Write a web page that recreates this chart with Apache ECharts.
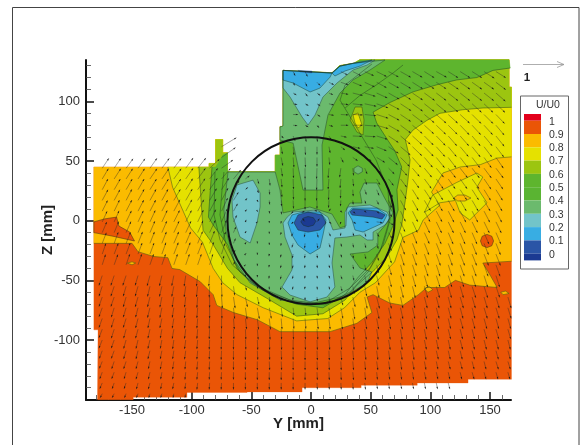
<!DOCTYPE html>
<html><head><meta charset="utf-8">
<style>html,body{margin:0;padding:0;background:#fff}#c{width:581px;height:445px}</style>
<script src="https://cdn.jsdelivr.net/npm/echarts@6/dist/echarts.min.js"></script>
</head><body><div id="c"></div>
<script>
const legendLabels=['1','0.9','0.8','0.7','0.6','0.5','0.4','0.3','0.2','0.1','0'];
const legendColors=['#e3001b','#ea5506','#fbbb00','#e5e100','#9cc510','#5eb52e','#5ab432','#6bba6d','#72c4c9','#38ade3','#2a55a6','#1b3a92'];
const majorX=[-150,-100,-50,0,50,100,150];
const minorX=[-180,-170,-160,-140,-130,-120,-110,-90,-80,-70,-60,-40,-30,-20,-10,10,20,30,40,60,70,80,90,110,120,130,140,160];
const majorZ=[-100,-50,0,50,100];
const minorZ=[-140,-130,-120,-110,-90,-80,-70,-60,-40,-30,-20,-10,10,20,30,40,60,70,80,90,110,120,130];

// measured domain outline (Y,Z in mm)
const upperEdge=[[168,112],[166,112],[166,135],[41,135],[36,132],[24,130],[17.6,124],[-23.5,126],[-23.5,79],[-26,79],[-26,55],[-30,55],[-30,41],[-70,41],[-70,57],[-74,57],[-74,68],[-80,68],[-80,48],[-85.5,48],[-85.5,45]];
const lowerEdge=[[-182,45],[-182,-91.5],[-178.5,-91.5],[-179,-150],[-149,-150],[-149,-148],[-104,-148],[-104,-144],[-53.6,-144],[-53.6,-143.5],[-7.5,-143.5],[-7.5,-140],[42,-140],[42,-138],[89,-138],[89,-136],[131.6,-136],[131.6,-133],[168,-133]];
// contours (Y,Z in mm)
const c08=[[-182,-19],[-166,-19],[-150,-19],[-145,-26],[-132,-30],[-120,-31],[-116.5,-40],[-110,-41],[-93,-51],[-82,-62],[-79,-71],[-65,-77],[-45,-83],[-26,-93],[16,-93],[38.5,-86],[51,-77],[47,-64],[52,-62],[66,-69],[77,-71],[90,-62],[97,-56],[112,-56],[121,-50],[133,-54],[156,-56],[150,-45.5],[144,-35.5],[168,-34]];
const c09wedge=[[-182,-1],[-173,1.5],[-163,3],[-161,-4.5],[-152,-9.5],[-148,-17],[-166,-13],[-182,-10]];
const c09spot=[[147.5,-11.5],[151.5,-13],[153,-17],[151.5,-21],[147.5,-22.5],[143.5,-21],[142,-17],[143.5,-13]];
const c08dashA=[[-154,-35.5],[-150,-34.5],[-147,-35.5],[-150,-37]];
const c08dashB=[[159,-60],[163,-59],[166,-61],[161,-62]];
const c08dashC=[[95,-57],[99,-55],[102,-58],[98,-60]];
const c07=[[-120,45],[-116,28],[-101,-6],[-91,-18],[-82,-40],[-74,-52],[-62,-62],[-40,-73],[-12,-84],[14,-82],[28,-73],[41,-60],[54,-52],[70,-34.5],[77,-14],[90,-8],[94,0.6],[108,13],[101,24],[110.6,40],[125,45],[142,47],[156,52.5],[168,53.5]];
const c07island=[[102,21.5],[122,32],[139,40],[144,36.6],[139,28],[147.5,15],[133,0.6],[125,6.5],[121,17],[108,15],[95,7]];
const c08inner=[[119.5,19],[123,21.5],[129,21.5],[134,19],[129,16.5],[123,16.5]];
const c06=[[-94,45],[-90.5,-8],[-82,-20],[-70,-40],[-59.5,-52],[-37,-65],[-12,-80],[10,-78],[28.5,-66.5],[38.5,-54],[53.6,-41],[64.5,-29],[72,-16],[76,-3.6],[79,17],[81,32],[83,51],[79,68],[85.5,76],[97,84],[108,90],[127,93],[144,94.5],[167,95],[168,95]];
const c05=[[-83,45],[-86,3],[-82,-3.6],[-70,-20],[-62,-40],[-51,-51],[-26,-65],[-12,-70],[10,-73],[28.5,-62],[39,-48],[51,-35],[62,-19],[69,-3.6],[73,9],[72,26],[76,45],[70,59],[64,68],[55,82],[52,91],[66,99],[85.5,108],[105.6,114],[122,118],[139,120],[152.5,126],[167,128]];
const c05tail=[[-74,55],[-80,45]];
const c045a=[[-73,40.8],[-74.6,25.7],[-76.3,4.8],[-71.2,-20.4],[-59.5,-43],[-41,-58],[-13.4,-68],[11.7,-69],[32.7,-56.4],[49.4,-39.6],[60.3,-20.4],[66.2,0.6],[64.5,25.7],[54.5,50.9],[36.9,80.2],[24.3,101],[28.5,113.7],[51,131.3]];
const c045b=[[-80.5,40.8],[-81.3,4.8],[-76.3,-16],[-66,-37],[-47,-54],[-17.6,-66.5],[11.7,-70.6],[32.7,-59.8],[47.8,-43],[57.8,-26],[64.5,-3.6],[68,21.5]];
const c045c=[[28.5,94.4],[41,105],[55,114],[69,124],[77.1,130.5]];
const c04a=[[-69.6,40.8],[-30,40.8],[-26,25.7],[-23.5,6.5],[-1,11.5],[17.6,5.6],[24.3,-6],[29.3,-4.4],[30,10.6],[32.7,14.8],[42.7,14.8],[41,24],[44.4,31.6],[55.3,31.6],[61.2,19.9],[68.7,6.5],[63.7,-1.9],[56,-11],[56,-20.4],[47.8,-26.2],[32.7,-27.9],[41,-39.6],[51,-43],[47,-52.2],[28.5,-63],[-1,-69.8],[-26,-66.5],[-51,-52.2],[-64.5,-33],[-71,-9.5],[-73,9]];
const c04b=[[-23.5,126],[17.6,123.8],[24.3,129.6],[36,132],[62,134.7],[49.4,126.3],[35.2,118],[24.3,107],[14.2,88.6],[9.2,63.4],[10,25.7],[-6.7,25.7],[-15,65],[-26,67.6],[-26,78.5],[-23.5,79.4]];
const c04c=[[39.4,46],[43,44],[43,41],[39.4,39],[36,41],[36,44]];
const c03a=[[-62,30],[-48.6,34],[-42.7,23.2],[-42.7,11.5],[-45.3,-1.9],[-51,-18.7],[-59.5,-13.7],[-65.4,3],[-66.2,17.3]];
const c03b=[[-20,3],[-15,7.3],[5,9],[14.2,3],[18.4,-7.8],[28.5,-6.1],[28.5,7.3],[31,11.5],[49.4,13.2],[63.7,7.3],[66.2,2.3],[62,-3.6],[52,-9.5],[52,-16.2],[47,-16.2],[41,-12],[30,-13.7],[20,-14.5],[17.6,-35.4],[20,-55.6],[13.4,-64],[-0.8,-68],[-17.6,-62.3],[-24.3,-55.6],[-16,-41.3],[-16,-28.7],[-21.8,-13.7],[-23.5,-1.9]];
const c03c=[[-23.5,126],[17.6,123.8],[24.3,129.6],[36,132],[53.6,134.7],[47,130.5],[35.2,126.3],[21.8,115.4],[10,103.7],[3.4,88.6],[-2.5,80.2],[-7.5,86.9],[-17.6,103.7],[-23.5,111.2]];
const c02a=[[-19.3,-1.9],[-16,4.8],[-6.7,7.3],[7.5,7.3],[12.6,0.6],[10,-12],[7.5,-22.9],[-0.8,-27.9],[-10.9,-20.4],[-16,-12]];
const c02b=[[31,6.5],[34.4,10.6],[55.3,10.6],[63.7,4.8],[60.3,-1.9],[43.6,-9.5],[36.9,-7.8],[34.4,0.6]];
const c02c=[[-23.5,126],[0.8,124.6],[17.6,123.8],[16,120.4],[7.5,111.2],[-0.8,107.9],[-15,115.4],[-23.5,117.9]];
const c02d=[[17.6,123.8],[24.3,129.6],[35.2,132],[51,134.7],[41,129.6],[28.5,125.5],[20,121.3]];
const c01a=[[-14.2,-1.9],[-10.9,4.8],[-2.5,7.3],[9.2,4.8],[12.6,-1.9],[7.5,-7.8],[-2.5,-9.5],[-10.9,-7.8]];
const c01b=[[32.7,7.3],[35.2,9.8],[47,9],[55.3,8.1],[62,4.8],[59.5,1.4],[52,3.1],[43.6,3.9],[34.4,4.8]];
const c01c=[[-11,126],[0.8,125.4],[0.8,123.8],[-9,124.6]];
const c00=[[-8.5,-1],[-6.5,2.2],[-2.5,3.5],[2,2.5],[4,-0.5],[2,-3.8],[-2.5,-5],[-6.5,-3.8]];
const c06isle=[[36.9,95.3],[42.7,95.3],[44.4,84.4],[43.6,71.8],[38.5,74.3],[32.7,84.4]];
const c07isle=[[35.2,88.6],[39.4,90.3],[42.7,80.2],[39.4,77.7],[36.9,81.9]];
const ring=[[0,0,70]];

// velocity samples, hundredths of U0; columns Y=-175..165 step 10 unless start differs
const vecZ=[125,116,107,98,89,80,71,62,53,44,35,26,17,8,-1,-10,-19,-28,-37,-46,-55,-64,-73,-82,-91,-100,-109,-118,-127,-136,-145];
const vecStart=[15,15,15,15,15,15,15,10,10,0,0,0,0,0,0,0,0,0,0,0,0,0,0,0,0,0,0,0,0,0,0];
const vecU=[
[4,5,6,8,10,16,20,22,24,24,25,24,24,25,24,24,24,25,24,24],
[6,4,5,8,12,18,22,24,24,25,25,25,24,24,25,24,24,24,24,24],
[10,8,6,8,10,18,24,26,26,26,25,25,25,24,24,24,24,24,23,23],
[10,10,8,8,12,18,24,28,28,26,26,25,24,24,24,23,23,22,22,22],
[12,12,10,8,12,18,24,28,28,26,25,25,24,24,23,23,22,22,21,21],
[10,10,8,5,10,18,24,28,28,26,25,24,23,23,22,22,21,21,20,20],
[6,5,3,1,6,14,22,26,26,24,24,23,22,22,21,21,20,20,20,19],
[36,0,0,0,0,3,2,1,0,3,10,18,22,24,24,24,23,22,21,20,20,20,19,19,18],
[34,0,0,0,0,4,2,1,0,2,6,12,16,20,22,22,21,20,20,19,19,19,18,18,18],
[16,16,17,17,17,18,18,18,20,24,28,26,24,18,8,3,1,0,-1,-2,-3,2,6,10,14,16,17,18,18,18,18,18,18,18,18],
[15,16,16,16,17,17,18,18,19,20,22,18,10,4,2,2,1,0,-1,-2,-2,2,5,8,12,15,16,17,17,17,17,17,17,17,17],
[14,15,15,15,16,16,17,17,18,19,18,14,6,3,1,2,1,0,-1,-1,-1,1,4,6,10,14,15,16,16,16,16,16,16,16,16],
[14,14,14,15,15,15,16,16,17,17,16,12,4,2,1,1,1,0,0,-1,-1,1,3,5,8,13,14,15,15,15,15,15,15,15,15],
[13,13,14,14,14,14,15,15,15,16,15,10,3,1,1,1,-4,-8,-6,4,3,6,4,6,8,12,13,14,14,14,14,14,14,14,14],
[12,12,13,13,13,13,14,14,14,15,14,8,2,1,0,-1,-4,-6,6,6,-2,8,10,14,12,11,12,13,13,13,13,13,13,13,13],
[11,11,12,12,12,12,13,13,13,14,12,6,2,0,0,-2,-4,-2,3,4,-1,3,3,6,8,10,11,12,12,12,12,12,12,12,12],
[10,10,11,11,11,11,12,12,12,12,10,5,2,0,0,-1,-3,-1,2,3,2,2,3,4,7,10,11,11,11,11,11,11,11,11,11],
[9,10,10,10,10,10,11,11,11,10,8,4,2,0,-1,-2,-2,-1,1,2,2,2,3,5,7,9,10,10,10,10,11,11,11,11,11],
[8,9,9,9,9,9,9,9,9,8,6,3,1,0,-1,-2,-2,-1,1,2,2,2,3,5,7,8,9,9,9,9,10,10,10,10,10],
[-8,-8,-8,-7,-7,-6,-5,-4,-3,-2,0,2,1,0,-1,-2,-2,-1,1,2,3,3,4,6,7,8,8,8,9,9,9,9,9,9,9],
[-8,-8,-7,-7,-6,-6,-5,-4,-3,-1,1,3,3,1,0,-2,-2,-1,1,2,3,4,5,6,7,7,7,8,8,8,8,9,9,9,9],
[-8,-8,-7,-7,-6,-5,-4,-3,-2,0,2,4,5,4,2,-1,-1,0,1,3,5,6,6,7,7,6,6,7,7,7,8,8,8,8,8],
[-8,-7,-7,-6,-6,-5,-4,-3,-2,0,1,3,4,5,5,3,2,2,3,4,5,5,5,6,6,6,6,6,7,7,7,7,8,8,8],
[-8,-7,-7,-6,-5,-5,-4,-3,-2,-1,0,2,3,3,3,2,2,2,3,3,4,4,5,5,5,5,5,6,6,6,7,7,7,7,7],
[-8,-7,-6,-6,-5,-4,-4,-3,-2,-1,-1,1,1,2,2,1,1,1,2,2,3,3,4,4,4,4,5,5,5,6,6,6,7,7,7],
[-8,-7,-6,-5,-5,-4,-3,-3,-2,-1,-1,0,1,1,1,1,0,1,1,2,2,3,3,3,4,4,4,5,5,5,6,6,6,6,6],
[-7,-7,-6,-5,-5,-4,-3,-3,-2,-1,-1,0,0,1,1,1,0,0,1,1,2,2,3,3,3,4,4,4,5,5,5,6,6,6,6],
[-7,-6,-6,-5,-4,-4,-3,-2,-2,-1,-1,0,0,0,1,1,0,0,1,1,1,2,2,3,3,3,4,4,4,5,5,5,5,6,6],
[-6,-6,-5,-5,-4,-3,-3,-2,-2,-1,-1,0,0,0,0,0,0,0,1,1,1,2,2,2,3,3,3,4,4,4,4,5,5,5,5],
[-6,-5,-5,-4,-4,-3,-3,-2,-2,-1,-1,0,0,0,0,0,0,0,1,1,1,1,2,2,2,3,3,3,3,4],
[-5,-5,-4,-4,-3,-3,-2,-2]
];
const vecV=[
[-9,-10,-12,-10,-8,-8,-10,-10,-12,-13,-14,-14,-15,-14,-15,-15,-15,-16,-15,-16],
[-6,-8,-10,-8,-6,-6,-9,-11,-13,-14,-15,-16,-16,-16,-17,-17,-17,-17,-18,-18],
[-3,-5,-8,-6,-4,-3,-6,-8,-12,-15,-16,-17,-18,-18,-19,-19,-19,-19,-20,-20],
[0,-2,-4,-5,-3,-2,-3,-6,-10,-14,-17,-18,-19,-20,-20,-20,-21,-21,-21,-21],
[1,0,-3,-5,-2,-1,-1,-3,-9,-14,-17,-19,-20,-21,-21,-21,-22,-22,-22,-23],
[0,-1,-4,-6,-3,0,0,-2,-8,-15,-19,-20,-21,-22,-22,-23,-23,-23,-24,-24],
[-5,-12,-14,-14,-10,-3,-1,-2,-8,-16,-20,-21,-22,-23,-24,-24,-24,-24,-25,-25],
[22,0,0,0,0,-18,-20,-20,-19,-15,-8,-4,-4,-10,-16,-20,-22,-23,-24,-24,-24,-25,-25,-25,-25],
[24,0,0,0,0,-20,-24,-24,-22,-18,-12,-8,-8,-12,-18,-22,-24,-24,-25,-25,-25,-25,-25,-26,-26],
[24,24,23,23,24,24,24,25,25,22,20,20,10,-6,-14,-20,-24,-26,-26,-24,-22,-18,-14,-12,-14,-18,-20,-22,-22,-23,-23,-24,-24,-24,-24],
[25,25,25,25,25,25,25,26,26,26,26,22,8,-12,-16,-20,-25,-27,-27,-25,-22,-18,-14,-14,-16,-20,-22,-23,-24,-24,-24,-24,-25,-25,-25],
[26,26,26,26,26,26,26,27,27,28,28,22,6,-8,-12,-18,-24,-27,-27,-25,-21,-16,-12,-14,-18,-22,-24,-24,-25,-25,-25,-25,-26,-26,-26],
[26,26,27,27,27,27,27,28,28,29,30,20,5,-4,-10,-14,-20,-22,-20,-18,-14,-10,-8,-10,-18,-24,-25,-25,-26,-26,-26,-26,-26,-26,-26],
[26,27,27,27,27,27,28,28,28,30,32,18,4,-2,-6,-8,-6,-3,2,6,-3,-6,-3,-6,-14,-25,-26,-26,-26,-27,-27,-27,-27,-27,-27],
[26,27,27,27,28,28,28,28,29,30,32,16,5,1,-3,-4,-5,8,8,-4,-6,-4,-2,-2,-8,-24,-26,-27,-27,-27,-27,-27,-27,-27,-27],
[26,27,27,28,28,28,28,28,29,30,30,14,4,0,-3,-5,-9,-11,-12,-9,-8,-8,-10,-10,-14,-26,-27,-27,-28,-28,-28,-28,-28,-28,-28],
[26,27,27,28,28,28,28,28,29,30,28,12,3,-1,-4,-6,-10,-12,-12,-10,-8,-10,-11,-13,-18,-27,-28,-28,-28,-28,-28,-28,-28,-28,-28],
[26,26,27,27,27,28,28,28,28,29,26,10,2,-2,-5,-8,-10,-10,-10,-9,-8,-10,-12,-16,-22,-28,-28,-28,-28,-28,-28,-28,-28,-28,-28],
[25,25,26,26,26,26,26,26,26,26,22,8,1,-3,-6,-8,-9,-8,-8,-8,-8,-11,-14,-20,-25,-28,-28,-28,-28,-28,-28,-28,-28,-28,-28],
[-24,-24,-24,-24,-25,-25,-25,-26,-26,-26,-24,-8,-3,-4,-7,-9,-8,-7,-7,-7,-9,-12,-18,-24,-28,-28,-28,-28,-28,-28,-28,-28,-28,-28,-28],
[-24,-24,-24,-24,-25,-25,-25,-26,-26,-27,-26,-22,-10,-6,-8,-9,-8,-7,-8,-8,-12,-18,-24,-28,-28,-28,-28,-28,-28,-28,-28,-28,-28,-27,-27],
[-23,-23,-24,-24,-24,-25,-25,-25,-26,-26,-27,-27,-24,-18,-12,-9,-8,-8,-10,-14,-20,-24,-28,-28,-28,-27,-27,-27,-27,-27,-27,-27,-27,-27,-27],
[-22,-23,-23,-23,-24,-24,-24,-25,-25,-26,-26,-27,-28,-27,-26,-22,-18,-18,-20,-24,-26,-28,-28,-27,-27,-27,-27,-27,-26,-26,-26,-26,-26,-26,-26],
[-22,-22,-22,-23,-23,-23,-24,-24,-24,-25,-25,-26,-26,-27,-27,-26,-25,-25,-26,-26,-26,-26,-26,-26,-26,-26,-26,-26,-26,-25,-25,-25,-25,-25,-25],
[-21,-22,-22,-22,-22,-22,-23,-23,-23,-24,-24,-24,-25,-25,-25,-25,-25,-25,-25,-25,-25,-25,-25,-25,-25,-25,-25,-25,-25,-24,-24,-24,-24,-24,-24],
[-20,-20,-21,-21,-21,-21,-22,-22,-22,-23,-23,-23,-23,-24,-24,-24,-24,-24,-24,-24,-24,-24,-24,-24,-24,-24,-24,-23,-23,-23,-23,-23,-23,-23,-23],
[-19,-19,-20,-20,-20,-20,-20,-21,-21,-21,-22,-22,-22,-22,-22,-22,-22,-23,-23,-23,-23,-23,-22,-22,-22,-22,-22,-22,-21,-21,-21,-21,-21,-21,-21],
[-17,-18,-18,-18,-18,-19,-19,-19,-20,-20,-20,-20,-20,-21,-21,-21,-21,-21,-21,-21,-21,-21,-21,-21,-20,-20,-20,-20,-19,-19,-19,-19,-19,-19,-19],
[-16,-16,-16,-17,-17,-17,-17,-18,-18,-18,-18,-18,-19,-19,-19,-19,-19,-19,-19,-19,-19,-19,-19,-18,-18,-18,-18,-18,-17,-17,-17,-17,-17,-17,-17],
[-14,-14,-14,-15,-15,-15,-15,-15,-16,-16,-16,-16,-16,-16,-16,-16,-16,-16,-16,-16,-16,-16,-16,-15,-15,-15,-15,-15,-15,-15],
[-10,-10,-10,-10,-10,-10,-10,-10]
];
const vectorUnitMm=34.4;

const outline=upperEdge.concat(lowerEdge);
function inside(p,poly){let c=false;for(let i=0,j=poly.length-1;i<poly.length;j=i++){const a=poly[i],b=poly[j];
  if((a[1]>p[1])!==(b[1]>p[1])&&p[0]<(b[0]-a[0])*(p[1]-a[1])/(b[1]-a[1])+a[0])c=!c;}return c;}
const vecData=[];
vecZ.forEach((z,r)=>vecU[r].forEach((u,k)=>{const y=-175+10*(vecStart[r]+k);const v=vecV[r][k];
  if((u||v)&&inside([y,z],outline)&&y+u*vectorUnitMm/100<=168)vecData.push([y,z,u/100,v/100]);}));

const fills=[
 ['0.9-1',legendColors[1],[outline]],
 ['0.8-0.9',legendColors[2],[c08.concat(upperEdge,[[-182,45]])]],
 ['0.9-1 islands',legendColors[1],[c09wedge,c09spot]],
 ['0.8-0.9 islands',legendColors[2],[c08dashA,c08dashB,c08dashC]],
 ['0.7-0.8',legendColors[3],[c07.concat(upperEdge),c07island]],
 ['0.8-0.9 inner',legendColors[2],[c08inner]],
 ['0.6-0.7',legendColors[4],[c06.concat(upperEdge)]],
 ['0.5-0.6',legendColors[5],[c05.concat(upperEdge.slice(2,15),c05tail)]],
 ['0.6-0.7 isle',legendColors[4],[c06isle]],
 ['0.7-0.8 isle',legendColors[3],[c07isle]],
 ['0.3-0.4',legendColors[7],[c04a,c04b,c04c]],
 ['0.2-0.3',legendColors[8],[c03a,c03b,c03c]],
 ['0.1-0.2',legendColors[9],[c02a,c02b,c02c,c02d]],
 ['0-0.1',legendColors[10],[c01a,c01b,c01c]],
 ['<0',legendColors[11],[c00]]
];
const openLines=[c08,c07,c06,c05,c045a,c045b,c045c];
const closedLines=[c09wedge,c09spot,c07island,c08inner,c06isle,c07isle,c04a,c04b,c04c,c03a,c03b,c03c,c02a,c02b,c02c,c02d,c01a,c01b,c00,c08dashA,c08dashB,c08dashC];

const series=fills.map(([name,color,polys])=>({type:'custom',name,silent:true,clip:false,animation:false,
  data:polys.map((_,i)=>[i]),
  renderItem(params,api){return{type:'polygon',shape:{points:polys[params.dataIndex].map(p=>api.coord(p))},style:{fill:color,stroke:color,lineWidth:0.3}};}
}));
const allLines=openLines.concat(closedLines);
series.push({type:'custom',name:'contours',silent:true,clip:false,animation:false,
  data:allLines.map((_,i)=>[i]),
  renderItem(params,api){const pts=allLines[params.dataIndex].map(p=>api.coord(p));if(params.dataIndex>=openLines.length)pts.push(pts[0]);
    return{type:'polyline',shape:{points:pts},style:{fill:null,stroke:'rgba(25,50,25,0.7)',lineWidth:0.6}};}
});
series.push({type:'custom',name:'vectors',silent:true,clip:false,animation:false,progressive:0,
  data:vecData,
  renderItem(params,api){const y=api.value(0),z=api.value(1),u=api.value(2),v=api.value(3);
    const a=api.coord([y,z]),b=api.coord([y+u*vectorUnitMm,z+v*vectorUnitMm]);
    const dx=b[0]-a[0],dy=b[1]-a[1],L=Math.hypot(dx,dy)||1,ux=dx/L,uy=dy/L,h=2.2,w=0.8;
    return{type:'group',children:[
      {type:'line',shape:{x1:a[0],y1:a[1],x2:b[0],y2:b[1]},style:{stroke:'rgba(40,40,40,0.8)',lineWidth:0.5}},
      {type:'polygon',shape:{points:[[b[0],b[1]],[b[0]-ux*h-uy*w,b[1]-uy*h+ux*w],[b[0]-ux*h+uy*w,b[1]-uy*h-ux*w]]},style:{fill:'rgba(20,20,20,0.85)'}}
    ]};}
});
series.push({type:'custom',name:'ring',silent:true,clip:false,animation:false,
  data:ring,
  renderItem(params,api){const c=api.coord([api.value(0),api.value(1)]);const r=api.size([api.value(2),0])[0];
    return{type:'circle',shape:{cx:c[0],cy:c[1],r},style:{fill:null,stroke:'#111',lineWidth:2}};}
});

const graphic=[
 {type:'polyline',shape:{points:[[12.5,445],[12.5,7.5],[579,7.5],[579,445]]},style:{fill:null,stroke:'#444',lineWidth:1}},
 {type:'rect',shape:{x:520.5,y:96,width:48,height:173},style:{fill:'#fff',stroke:'#666',lineWidth:1},z:5},
 {type:'text',style:{x:548,y:105,text:'U/U0',fill:'#333',font:'10.5px "Liberation Sans"',textAlign:'center',textVerticalAlign:'middle'},z:6},
 {type:'line',shape:{x1:523,y1:64.5,x2:564,y2:64.5},style:{stroke:'#999',lineWidth:0.8}},
 {type:'polyline',shape:{points:[[557,61.5],[564,64.5],[557,67.5]]},style:{fill:null,stroke:'#999',lineWidth:0.8}},
 {type:'text',style:{x:527,y:77.5,text:'1',fill:'#222',font:'bold 11.5px "Liberation Sans"',textAlign:'center',textVerticalAlign:'middle'}}
];
let ly=114;
legendColors.forEach((col,i)=>{const h=(i===0||i===legendColors.length-1)?6.7:13.3;
  graphic.push({type:'rect',shape:{x:524,y:ly,width:17,height:h},style:{fill:col},z:6});ly+=h;});
legendLabels.forEach((t,i)=>graphic.push({type:'text',style:{x:549,y:121.7+13.3*i,text:t,fill:'#333',font:'10.5px "Liberation Sans"',textAlign:'left',textVerticalAlign:'middle'},z:6}));

const fontFamily='"Liberation Sans"';
const chart=echarts.init(document.getElementById('c'),null,{renderer:'canvas'});
chart.setOption({
 animation:false,backgroundColor:'#fff',
 grid:{left:86,right:70,top:60,bottom:45,containLabel:false},
 xAxis:[
  {type:'value',min:-188.6,max:167.6,name:'Y [mm]',nameLocation:'middle',nameGap:16,nameMoveOverlap:false,nameTextStyle:{fontFamily,fontSize:15,fontWeight:'bold',color:'#222'},
   axisLine:{show:true,onZero:false,lineStyle:{color:'#111',width:2}},splitLine:{show:false},
   axisTick:{show:true,inside:true,length:8,lineStyle:{color:'#111',width:1.5},customValues:majorX},
   axisLabel:{show:true,margin:4,fontFamily,fontSize:13,color:'#333',customValues:majorX}},
  {type:'value',min:-188.6,max:167.6,position:'bottom',axisLine:{show:false,onZero:false},splitLine:{show:false},
   axisTick:{show:true,inside:true,length:5,lineStyle:{color:'#444',width:0.8},customValues:minorX},axisLabel:{show:false}}
 ],
 yAxis:[
  {type:'value',min:-150.3,max:134.7,name:'Z [mm]',nameLocation:'middle',nameGap:31,nameMoveOverlap:false,nameTextStyle:{fontFamily,fontSize:15,fontWeight:'bold',color:'#222'},
   axisLine:{show:true,onZero:false,lineStyle:{color:'#111',width:2}},splitLine:{show:false},
   axisTick:{show:true,inside:true,length:8,lineStyle:{color:'#111',width:1.5},customValues:majorZ},
   axisLabel:{show:true,margin:6,fontFamily,fontSize:13,color:'#333',customValues:majorZ}},
  {type:'value',min:-150.3,max:134.7,position:'left',axisLine:{show:false,onZero:false},splitLine:{show:false},
   axisTick:{show:true,inside:true,length:5,lineStyle:{color:'#444',width:0.8},customValues:minorZ},axisLabel:{show:false}}
 ],
 graphic,series
});
</script></body></html>
